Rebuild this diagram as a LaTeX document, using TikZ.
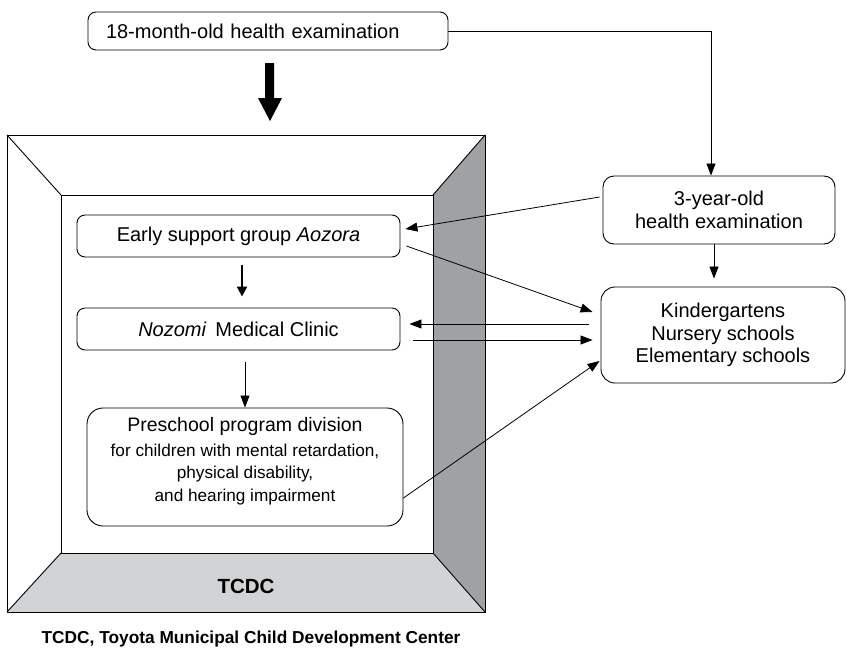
\documentclass[tikz,border=0pt]{standalone}
\usepackage{fontspec}
\setmainfont{Liberation Sans}
\usetikzlibrary{arrows.meta,calc}
\definecolor{darkpanel}{HTML}{A0A1A4}
\definecolor{lightpanel}{HTML}{D2D3D5}
\tikzset{
  box/.style={draw, line width=0.9pt, rounded corners=8pt, align=center,
    font=\fontsize{20}{23.5}\selectfont, inner sep=0pt},
  conn/.style={line width=0.8pt, -{Triangle[length=12pt,width=9pt]}},
  thickconn/.style={line width=2.2pt, -{Triangle[length=10pt,width=10pt]}},
  frameline/.style={line width=0.9pt},
}
\begin{document}
\begin{tikzpicture}[x=1pt,y=-1pt]
\useasboundingbox (0,0) rectangle (847,649);
% frame
\coordinate (o1) at (7,135);
\coordinate (o2) at (485,135);
\coordinate (o3) at (485,612);
\coordinate (o4) at (7,612);
\coordinate (i1) at (61,195);
\coordinate (i2) at (433,195);
\coordinate (i3) at (433,553);
\coordinate (i4) at (61,553);
\fill[darkpanel] (i2) -- (o2) -- (o3) -- (i3) -- cycle;
\fill[lightpanel] (o4) -- (i4) -- (i3) -- (o3) -- cycle;
\draw[frameline] (o1) rectangle (o3);
\draw[frameline] (i1) rectangle (i3);
\draw[frameline] (o1) -- (i1) (o2) -- (i2) (o3) -- (i3) (o4) -- (i4);
\node[font=\bfseries\fontsize{20.5}{24}\selectfont] (tcdc) at (246,586) {TCDC};
\node[font=\bfseries\fontsize{17.3}{20}\selectfont] (caption) at (251,639) {TCDC, Toyota Municipal Child Development Center};

% nodes
\node[box, minimum height=38pt, text width=324pt, inner xsep=18pt, align=left] (m18) at (268,31) {18-month-old health examination};
\node[box, minimum width=323pt, minimum height=42pt] (early) at (238.5,236) {Early support group \textit{Aozora}};
\node[box, minimum width=323pt, minimum height=42pt] (nozomi) at (238.5,329) {\textit{Nozomi}\, Medical Clinic};
\node[box, rounded corners=16pt, minimum width=316pt, minimum height=118pt] (pre) at (245,467) {};
\node[align=center, font=\fontsize{17.2}{22.5}\selectfont, yshift=6pt] (pretext) at (pre.center)
  {{\fontsize{19.5}{23}\selectfont Preschool program division}\\[2pt]
   for children with mental retardation,\\ physical disability,\\ and hearing impairment};
\node[box, rounded corners=11pt, minimum width=232pt, minimum height=68pt] (y3) at (719,210) {3-year-old\\health examination};
\node[box, rounded corners=14pt, minimum width=244pt, minimum height=96pt, font=\fontsize{20}{22.5}\selectfont] (kinder) at (723,335) {Kindergartens\\Nursery schools\\Elementary schools};

% big arrow
\fill (265,63) -- (274,63) -- (274,98) -- (282,98) -- (270,121) -- (258,98) -- (265,98) -- cycle;

% connectors
\draw[conn] (m18.east) -| ([xshift=-8pt]y3.north);
\draw[conn] ([xshift=-3pt,yshift=13pt]y3.west) -- ([xshift=5pt,yshift=7pt]early.east);
\draw[conn] ([xshift=-5pt]y3.south) -- ([xshift=-9pt,yshift=8pt]kinder.north);
\draw[conn] ([xshift=6pt,yshift=-10pt]early.east) -- ([xshift=-8pt,yshift=23pt]kinder.west);
\draw[conn] ([xshift=-12pt,yshift=11pt]kinder.west) -- ([xshift=9pt,yshift=5pt]nozomi.east);
\draw[conn] ([xshift=13pt,yshift=-11pt]nozomi.east) -- ([xshift=-8pt,yshift=-5pt]kinder.west);
\draw[conn] ([yshift=-31pt]pre.east) -- ([xshift=-1pt,yshift=-26pt]kinder.west);
\draw[thickconn] ([xshift=3.5pt,yshift=-8pt]early.south) -- ([xshift=3.5pt,yshift=11pt]nozomi.north);
\draw[conn] ([xshift=6.5pt,yshift=-12pt]nozomi.south) -- ([xshift=0pt]pre.north);
\end{tikzpicture}
\end{document}
